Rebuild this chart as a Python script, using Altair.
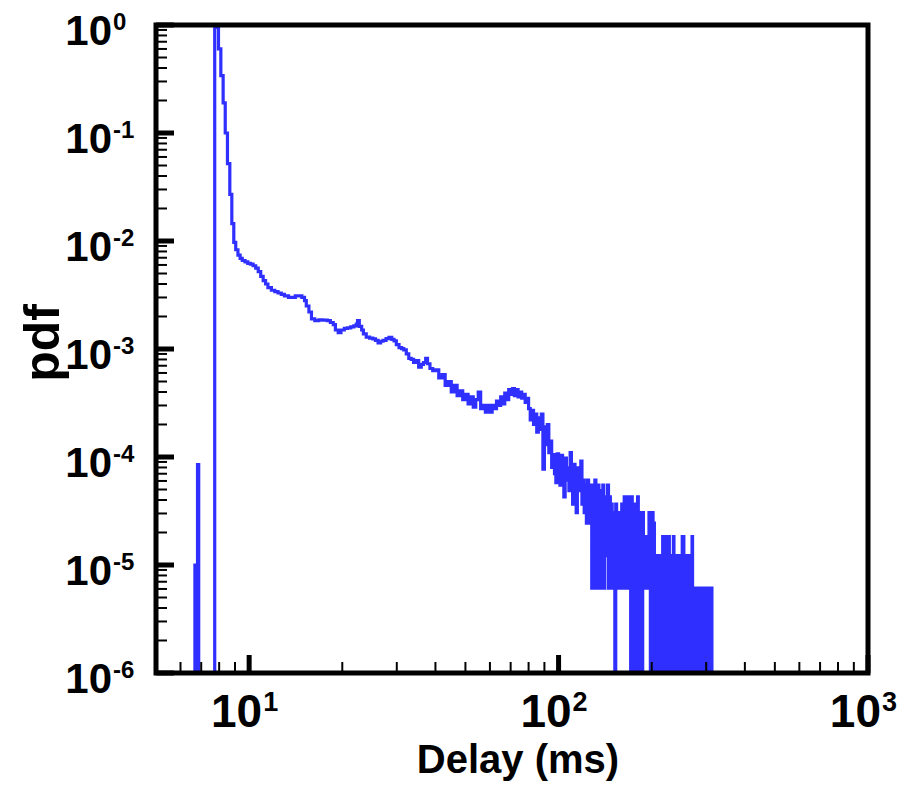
import altair as alt
import pandas as pd

# ---------------- data ----------------
# early part of the histogram (delay in ms, pdf), drawn as steps
main_delay = [5.0, 6.68, 6.74, 6.81, 6.87, 7.74, 7.96, 8.10, 8.24, 8.37, 8.51, 8.66,
              8.79, 8.92, 9.05, 9.2, 9.35, 9.5, 9.7, 9.9, 10.1, 10.3, 10.5, 10.7,
              10.9, 11.1, 11.3, 11.5, 11.8, 12.1, 12.4, 12.7, 13.0, 13.4, 13.8, 14.1,
              14.5, 14.8, 15.1, 15.3, 15.6, 15.9, 16.3, 16.8, 17.3, 17.9, 18.3, 18.7,
              19.0, 19.4, 19.8, 20.3, 20.8, 21.3, 21.8, 22.2, 22.4, 22.7, 23.1, 23.4,
              23.9, 24.5, 25.1, 25.6, 26.1, 26.6, 27.1, 27.7, 28.3, 28.9, 29.4, 29.9,
              30.5, 31.1, 31.6, 32.2, 32.8, 33.4, 34.0, 34.6, 35.3, 36.0, 36.6, 37.2,
              37.7, 38.4, 39.2]
main_pdf = [0, 1.0e-5, 0, 8.5e-5, 0, 0.95, 0.6, 0.34, 0.19, 0.1, 0.052, 0.027,
            0.0145, 0.0097, 0.0083, 0.0074, 0.0069, 0.0066, 0.0064, 0.0062, 0.0061, 0.0059, 0.0056, 0.0052,
            0.0047, 0.0043, 0.0040, 0.0037, 0.0035, 0.0034, 0.0033, 0.0032, 0.0031, 0.0030, 0.0030, 0.0031,
            0.0031, 0.0030, 0.0028, 0.0025, 0.0022, 0.0019, 0.00183, 0.00186, 0.00185, 0.00183, 0.00176, 0.00168,
            0.0015, 0.00142, 0.0015, 0.00155, 0.00157, 0.0016, 0.00164, 0.0017, 0.00183, 0.00162, 0.0015, 0.00138,
            0.00129, 0.00126, 0.00124, 0.0012, 0.00114, 0.00118, 0.0012, 0.00125, 0.00128, 0.00123, 0.00119, 0.0011,
            0.00103, 0.00101, 0.00098, 0.0009, 0.00082, 0.0008, 0.00075, 0.00078, 0.00068, 0.00072, 0.00075, 0.00082,
            0.00073, 0.00066, 0.00063]

# 1 ms bins from 40 ms to 99 ms (pdf)
band_start_ms = 40
band_pdf = [6.4e-4, 5.4e-4, 5.8e-4, 4.6e-4, 5.0e-4, 4.0e-4, 4.6e-4, 3.7e-4, 4.1e-4, 3.4e-4,
            3.8e-4, 3.1e-4, 3.6e-4, 2.9e-4, 3.4e-4, 4.0e-4, 2.8e-4, 3.0e-4, 2.6e-4, 3.0e-4,
            2.6e-4, 3.0e-4, 2.8e-4, 3.3e-4, 3.0e-4, 3.6e-4, 3.1e-4, 3.9e-4, 3.4e-4, 4.2e-4,
            3.8e-4, 4.3e-4, 3.7e-4, 4.2e-4, 3.6e-4, 4.0e-4, 3.5e-4, 3.8e-4, 3.2e-4, 3.5e-4,
            2.8e-4, 2.2e-4, 2.7e-4, 2.0e-4, 2.5e-4, 1.7e-4, 2.3e-4, 1.8e-4, 2.5e-4, 7.7e-5,
            1.9e-4, 1.3e-4, 2.0e-4, 1.1e-4, 1.4e-4, 8.0e-5, 1.05e-4, 7.0e-5, 5.8e-5, 1.07e-4]

# 1 ms bins from 100 ms to 312 ms, in sample counts
tail_start_ms = 100
tail_counts = [15, 9, 17, 11, 7, 16, 10, 13, 8, 18,
               12, 6, 14, 9, 5, 13, 8, 11, 15, 6,
               10, 5, 9, 4, 10, 7, 4, 9,
               1, 8, 5, 10, 1, 6, 9, 3, 1, 8, 4, 9, 1, 7, 2,
               5, 9, 1, 7, 3, 6, 1, 5, 2, 0, 6, 1, 4, 2, 5, 1,
               3, 6, 1, 4, 7, 2, 1, 5, 7, 3, 1, 6,
               0, 7, 0, 5, 1, 0, 6, 0, 3, 7, 0, 2, 0, 5, 1, 0, 5,
               3, 1, 2, 1, 3, 1, 1, 2, 5, 1,
               0, 4, 0, 5, 0, 4, 0, 2,
               0, 2, 1, 0, 2, 0, 1, 2, 0, 2, 0,
               3, 0, 1, 3, 0, 2, 0, 3, 1, 0, 3, 0, 2,
               0, 1, 0, 1, 0, 3, 0, 1, 0, 2, 0, 1, 2, 0,
               1, 0, 1, 2, 0, 1, 0, 3, 0, 3,
               0, 2, 1, 0, 2, 0, 1, 2, 0, 1, 2, 0, 2,
               0, 1, 0, 3, 0,
               1, 0, 1, 1, 0, 1, 0, 1, 0, 1, 1, 0, 1, 0, 1, 0, 1, 1, 0, 1, 0, 1, 0, 1, 0,
               1, 1, 1, 1,
               0, 1, 0, 1, 0, 1, 0, 1, 0, 1, 0, 1]
pdf_per_count = 6.1e-6
end_ms = 313

# axis decorations
y_decades = [1, 1e-1, 1e-2, 1e-3, 1e-4, 1e-5, 1e-6]
y_exponents = ["0", "-1", "-2", "-3", "-4", "-5", "-6"]
x_decades = [10, 100, 1000]
x_exponents = ["1", "2", "3"]
x_minor = [6, 7, 8, 9, 20, 30, 40, 50, 60, 70, 80, 90, 200, 300, 400, 500, 600, 700, 800, 900]
y_minor = [k * d for d in [1e-6, 1e-5, 1e-4, 1e-3, 1e-2, 1e-1] for k in range(2, 10)]

# ---------------- build table ----------------
FLOOR = 1e-9  # zero bins on a log axis (clipped below the frame)
delays = list(main_delay)
pdfs = list(main_pdf)
delays += [band_start_ms + i for i in range(len(band_pdf))]
pdfs += band_pdf
delays += [tail_start_ms + i for i in range(len(tail_counts))]
pdfs += [c * pdf_per_count for c in tail_counts]
delays.append(end_ms)
pdfs.append(0)
pdfs = [p if p > 0 else FLOOR for p in pdfs]
hist = pd.DataFrame({"delay": delays, "pdf": pdfs})

W, H = 712, 648
FONT = "Liberation Sans"
BLUE = "#2f2fff"

xs = alt.Scale(type="log", domain=[5, 1000], nice=False)
ys = alt.Scale(type="log", domain=[1e-6, 1], nice=False)

line = alt.Chart(hist).mark_line(
    interpolate="step-after", clip=True, color=BLUE, strokeWidth=3.2
).encode(
    x=alt.X("delay:Q", scale=xs, axis=None),
    y=alt.Y("pdf:Q", scale=ys, axis=None),
)

ymaj_df = pd.DataFrame({"v": y_decades, "e": y_exponents, "b": ["10"] * len(y_decades)})
xmaj_df = pd.DataFrame({"v": x_decades, "e": x_exponents, "b": ["10"] * len(x_decades)})

y_major_ticks = alt.Chart(ymaj_df).mark_rule(color="black", strokeWidth=5).encode(
    y=alt.Y("v:Q", scale=ys, axis=None), x=alt.value(0), x2=alt.value(18))
y_minor_ticks = alt.Chart(pd.DataFrame({"v": y_minor})).mark_rule(color="black", strokeWidth=2).encode(
    y=alt.Y("v:Q", scale=ys, axis=None), x=alt.value(0), x2=alt.value(11))
x_major_ticks = alt.Chart(xmaj_df).mark_rule(color="black", strokeWidth=5).encode(
    x=alt.X("v:Q", scale=xs, axis=None), y=alt.value(H), y2=alt.value(H - 18))
x_minor_ticks = alt.Chart(pd.DataFrame({"v": x_minor})).mark_rule(color="black", strokeWidth=2).encode(
    x=alt.X("v:Q", scale=xs, axis=None), y=alt.value(H), y2=alt.value(H - 11))

# frame around the plot area
frame = alt.Chart(pd.DataFrame({"t": [0]})).mark_rect(
    fill=None, stroke="black", strokeWidth=5
).encode(x=alt.value(0), x2=alt.value(W), y=alt.value(0), y2=alt.value(H))

y_lab_base = alt.Chart(ymaj_df).mark_text(
    font=FONT, fontWeight="bold", fontSize=42, align="right", baseline="alphabetic", dy=20, color="black"
).encode(y=alt.Y("v:Q", scale=ys, axis=None), x=alt.value(-44), text="b:N")
y_lab_exp = alt.Chart(ymaj_df).mark_text(
    font=FONT, fontWeight="bold", fontSize=24, align="left", baseline="alphabetic", dy=5, color="black"
).encode(y=alt.Y("v:Q", scale=ys, axis=None), x=alt.value(-43), text="e:N")

x_lab_base = alt.Chart(xmaj_df).mark_text(
    font=FONT, fontWeight="bold", fontSize=46, align="right", baseline="alphabetic", dx=13, color="black"
).encode(x=alt.X("v:Q", scale=xs, axis=None), y=alt.value(H + 54), text="b:N")
x_lab_exp = alt.Chart(xmaj_df).mark_text(
    font=FONT, fontWeight="bold", fontSize=27, align="left", baseline="alphabetic", dx=14, color="black"
).encode(x=alt.X("v:Q", scale=xs, axis=None), y=alt.value(H + 38), text="e:N")

x_title = alt.Chart(pd.DataFrame({"t": ["Delay (ms)"]})).mark_text(
    font=FONT, fontWeight="bold", fontSize=40, align="center", baseline="alphabetic", color="black"
).encode(x=alt.value(362), y=alt.value(H + 100), text="t:N")
y_title = alt.Chart(pd.DataFrame({"t": ["pdf"]})).mark_text(
    font=FONT, fontWeight="bold", fontSize=50, align="center", baseline="middle", angle=270, color="black"
).encode(x=alt.value(-112), y=alt.value(318), text="t:N")

chart = alt.layer(
    line, y_minor_ticks, y_major_ticks, x_minor_ticks, x_major_ticks, frame,
    y_lab_base, y_lab_exp, x_lab_base, x_lab_exp, x_title, y_title
).properties(
    width=W, height=H,
    autosize=alt.AutoSizeParams(type="none"),
    padding={"left": 148, "top": 17, "right": 29, "bottom": 109},
).configure_view(
    stroke=None
)

chart.save("out.html", embed_options={"renderer": "svg", "actions": False})
